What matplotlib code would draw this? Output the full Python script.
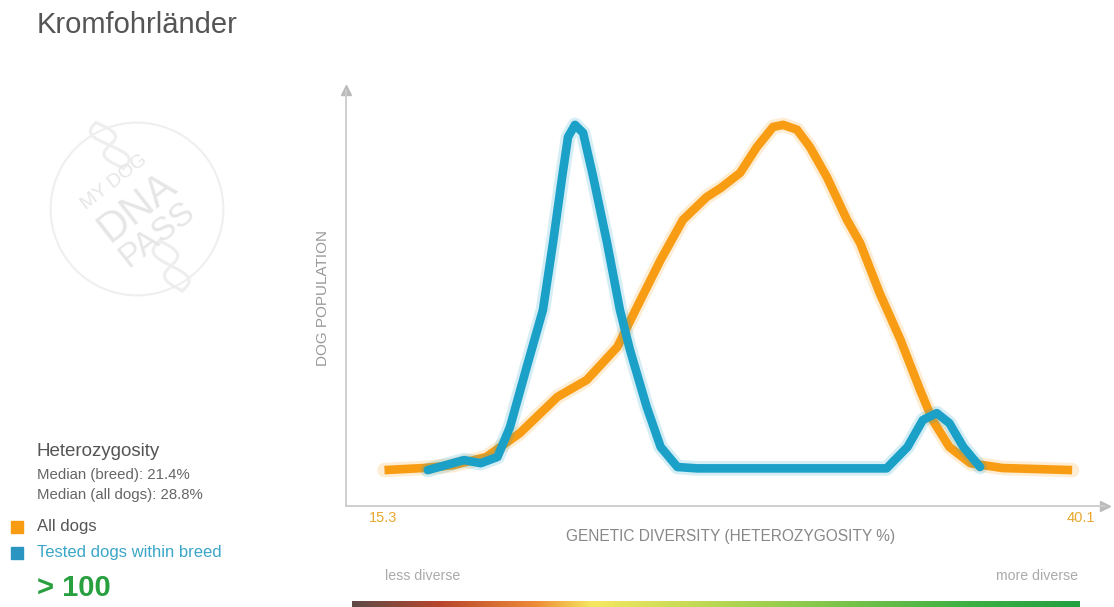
import matplotlib
matplotlib.use("Agg")
import matplotlib.pyplot as plt
from matplotlib.colors import LinearSegmentedColormap
from matplotlib.patches import Circle
import numpy as np

plt.rcParams["font.family"] = ["Liberation Sans", "DejaVu Sans"]

# heterozygosity % (x) vs relative dog population (y)
all_x = [15.35, 16.75, 17.8, 19.0, 20.2, 21.55, 22.6, 23.7, 24.4, 25.25, 26.05,
         26.9, 27.4, 28.1, 28.7, 29.28, 29.64, 30.14, 30.6, 31.21, 31.93, 32.4,
         33.1, 33.85, 34.55, 35.0, 35.6, 36.35, 37.5, 40.0]
all_y = [0.0, 0.6, 1.4, 3.8, 10.7, 21.2, 26.1, 35.7, 47.2, 60.9, 72.5,
         79.1, 81.7, 86.1, 93.6, 99.4, 100.0, 98.6, 93.6, 84.9, 72.5, 65.8,
         51.3, 37.7, 23.2, 14.5, 6.7, 2.0, 0.6, 0.0]

breed_x = [16.9, 18.2, 18.8, 19.4, 19.85, 20.45, 21.03, 21.39, 21.72, 21.93, 22.18,
           22.47, 22.83, 23.33, 23.79, 24.15, 24.75, 25.25, 25.85, 26.55, 33.35,
           34.1, 34.65, 35.15, 35.6, 36.1, 36.7]
breed_y = [0.0, 2.9, 2.0, 3.8, 12.5, 29.9, 46.4, 65.8, 85.0, 96.5, 100.0,
           97.7, 85.0, 65.8, 46.4, 34.8, 18.3, 6.7, 0.9, 0.5, 0.5,
           6.7, 14.5, 16.5, 13.6, 6.7, 0.9]

x_min_label = "15.3"
x_max_label = "40.1"
median_breed = 21.4
median_all = 28.8

ORANGE = "#f89c14"
BLUE = "#1ba0c8"

W, H = 1114, 607
fig = plt.figure(figsize=(W / 100, H / 100), dpi=100)


def fx(px):
    return px / W


def fy(py):
    return 1 - py / H


# main axes (pixel box 346..1105 x 90..506)
ax = fig.add_axes([fx(346), fy(506), fx(1105) - fx(346), fy(90) - fy(506)])
ax.set_xlim(13.97, 41.18)
ax.set_ylim(-10.4, 110.1)
ax.set_xticks([])
ax.set_yticks([])
for s in ["top", "right"]:
    ax.spines[s].set_visible(False)
for s in ["left", "bottom"]:
    ax.spines[s].set_color("#cccccc")
    ax.spines[s].set_linewidth(1.3)
ax.plot([0], [1.0], marker="^", color="#bbbbbb", markersize=7, transform=ax.transAxes, clip_on=False)
ax.plot([1.0], [0], marker=">", color="#bbbbbb", markersize=7, transform=ax.transAxes, clip_on=False)

ax.plot(all_x, all_y, color=ORANGE, lw=10.5, alpha=0.18, solid_capstyle="round", solid_joinstyle="round")
ax.plot(all_x, all_y, color=ORANGE, lw=6.2, solid_capstyle="butt", solid_joinstyle="round")
ax.plot(breed_x, breed_y, color=BLUE, lw=10.5, alpha=0.18, solid_capstyle="round", solid_joinstyle="round")
ax.plot(breed_x, breed_y, color=BLUE, lw=6.2, solid_capstyle="round", solid_joinstyle="round")

# axis texts
fig.text(fx(369), fy(518), x_min_label, color="#e8a830", fontsize=10.5, ha="left", va="center")
fig.text(fx(1095), fy(518), x_max_label, color="#e8a830", fontsize=10.5, ha="right", va="center")
fig.text(fx(731), fy(537), "GENETIC DIVERSITY (HETEROZYGOSITY %)", color="#888888",
         fontsize=11.2, ha="center", va="center")
fig.text(fx(323), fy(298), "DOG POPULATION", color="#999999", fontsize=11,
         rotation=90, ha="center", va="center")
fig.text(fx(385), fy(576), "less diverse", color="#aaaaaa", fontsize=10.2, ha="left", va="center")
fig.text(fx(1078), fy(576), "more diverse", color="#aaaaaa", fontsize=10.2, ha="right", va="center")

# diversity gradient bar
gax = fig.add_axes([fx(352), 0, fx(1080) - fx(352), fy(601)])
cmap = LinearSegmentedColormap.from_list(
    "div", [(0.0, "#5e4a46"), (0.12, "#b8442c"), (0.25, "#ec8a36"), (0.33, "#f6e860"),
            (0.55, "#a6d24e"), (0.85, "#3cb043"), (1.0, "#22a040")])
gax.imshow(np.linspace(0, 1, 256)[None, :], aspect="auto", cmap=cmap)
gax.axis("off")

# title
fig.text(fx(37), fy(25), "Kromfohrländer", fontsize=21, color="#555555", ha="left", va="center")

# faint logo
lax = fig.add_axes([fx(37), fy(310), fx(237) - fx(37), fy(108) - fy(310)])
lax.set_xlim(-1.1, 1.1)
lax.set_ylim(-1.1, 1.1)
lax.set_aspect("equal")
lax.axis("off")
lax.add_patch(Circle((0, 0), 0.95, fill=False, ec="#efefef", lw=1.5))
t = np.linspace(0, 1, 40)
for ph in (0, np.pi):
    lax.plot(-0.45 + 0.3 * t + 0.13 * np.sin(np.pi * 2 * t + ph), 0.95 - 0.5 * t, color="#eeeeee", lw=2.2)
    lax.plot(0.25 + 0.25 * t + 0.13 * np.sin(np.pi * 2 * t + ph), -0.35 - 0.55 * t, color="#eeeeee", lw=2.2)
lax.text(-0.25, 0.3, "MY DOG", rotation=38, color="#e6e6e6", fontsize=14, ha="center", va="center")
lax.text(0.0, 0.02, "DNA", rotation=38, color="#e6e6e6", fontsize=30, ha="center", va="center")
lax.text(0.22, -0.28, "PASS", rotation=38, color="#e6e6e6", fontsize=24, ha="center", va="center")

# left info panel
fig.text(fx(37), fy(451), "Heterozygosity", fontsize=13.5, color="#555555", ha="left", va="center")
fig.text(fx(37), fy(475), f"Median (breed): {median_breed}%", fontsize=10.8, color="#666666",
         ha="left", va="center")
fig.text(fx(37), fy(495), f"Median (all dogs): {median_all}%", fontsize=10.8, color="#666666",
         ha="left", va="center")
fig.patches.append(plt.Rectangle((fx(11), fy(533)), fx(12), 12 / H, color=ORANGE,
                                 transform=fig.transFigure, figure=fig))
fig.patches.append(plt.Rectangle((fx(11), fy(559)), fx(12), 12 / H, color="#2a95c0",
                                 transform=fig.transFigure, figure=fig))
fig.text(fx(37), fy(527), "All dogs", fontsize=12, color="#555555", ha="left", va="center")
fig.text(fx(37), fy(553), "Tested dogs within breed", fontsize=12, color="#3aa6c8",
         ha="left", va="center")
fig.text(fx(37), fy(588), "> 100", fontsize=21, color="#28a040", fontweight="bold",
         ha="left", va="center")

fig.savefig("out.png", dpi=100)
